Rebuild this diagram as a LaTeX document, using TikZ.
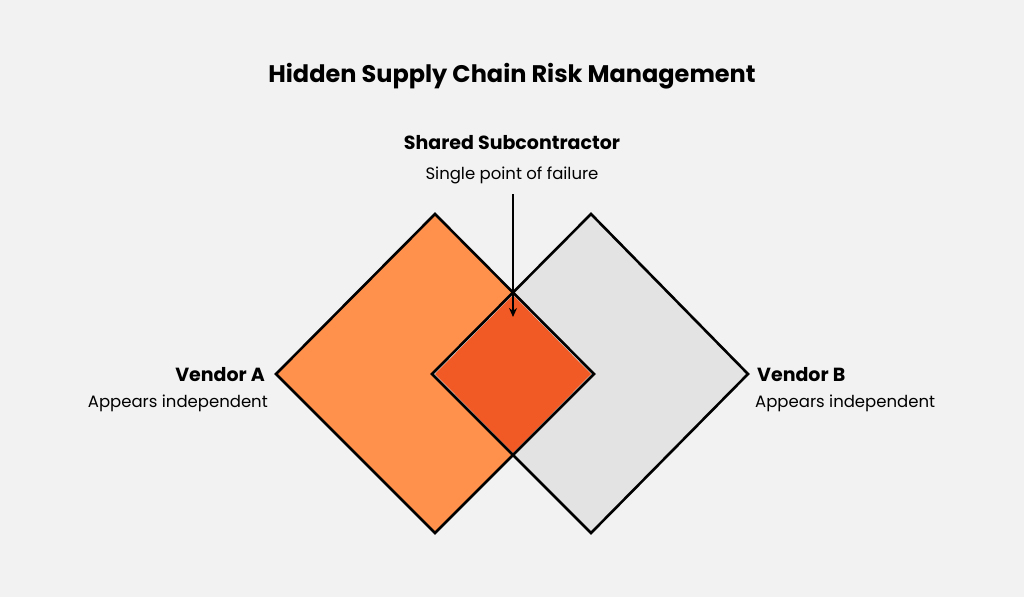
\documentclass[tikz,border=0pt]{standalone}
\usepackage{fontspec}
\setmainfont{Poppins}
\usetikzlibrary{arrows.meta}
\definecolor{bg}{HTML}{F2F2F2}
\definecolor{orA}{HTML}{FF914D}
\definecolor{grB}{HTML}{E3E3E3}
\definecolor{ovl}{HTML}{F15A24}
\tikzset{dia/.style={draw=black,line width=2.6pt,line join=miter},
 lbl/.style={font=\fontsize{19}{22}\selectfont\bfseries,inner sep=0pt},
 sub/.style={font=\fontsize{16.5}{20}\selectfont,inner sep=0pt}}
\begin{document}
\begin{tikzpicture}[x=1pt,y=-1pt]
\fill[bg] (0,0) rectangle (1024,597);
\useasboundingbox (0,0) rectangle (1024,597);
\coordinate (AL) at (276,374); \coordinate (AT) at (435,214); \coordinate (AR) at (594,374); \coordinate (AB) at (435,533);
\coordinate (BL) at (432,374); \coordinate (BT) at (591,214); \coordinate (BR) at (748,374); \coordinate (BB) at (591,533);
\fill[orA] (AL)--(AT)--(AR)--(AB)--cycle;
\fill[grB] (BL)--(BT)--(BR)--(BB)--cycle;
\fill[ovl] (435,374)--(513,295)--(591,374)--(513,453)--cycle;
\draw[dia] (AL)--(AT)--(AR)--(AB)--cycle;
\draw[dia] (BL)--(BT)--(BR)--(BB)--cycle;
\node[font=\fontsize{24}{28}\selectfont\bfseries,inner sep=0pt] (title) at (512,76) {Hidden Supply Chain Risk Management};
\node[lbl] (sh) at (512,143) {Shared Subcontractor};
\node[sub] (sp) at (512,175) {Single point of failure};
\coordinate (tip) at (513,317);
\draw[line width=1.6pt,-{Stealth[length=9pt,width=8pt]}] (513,194) -- (tip);
\node[lbl,anchor=east] (va) at (265,375) {Vendor A};
\node[sub,anchor=east] (vas) at (268,403) {Appears independent};
\node[lbl,anchor=west] (vb) at (757,375) {Vendor B};
\node[sub,anchor=west] (vbs) at (755,403) {Appears independent};
\end{tikzpicture}
\end{document}
